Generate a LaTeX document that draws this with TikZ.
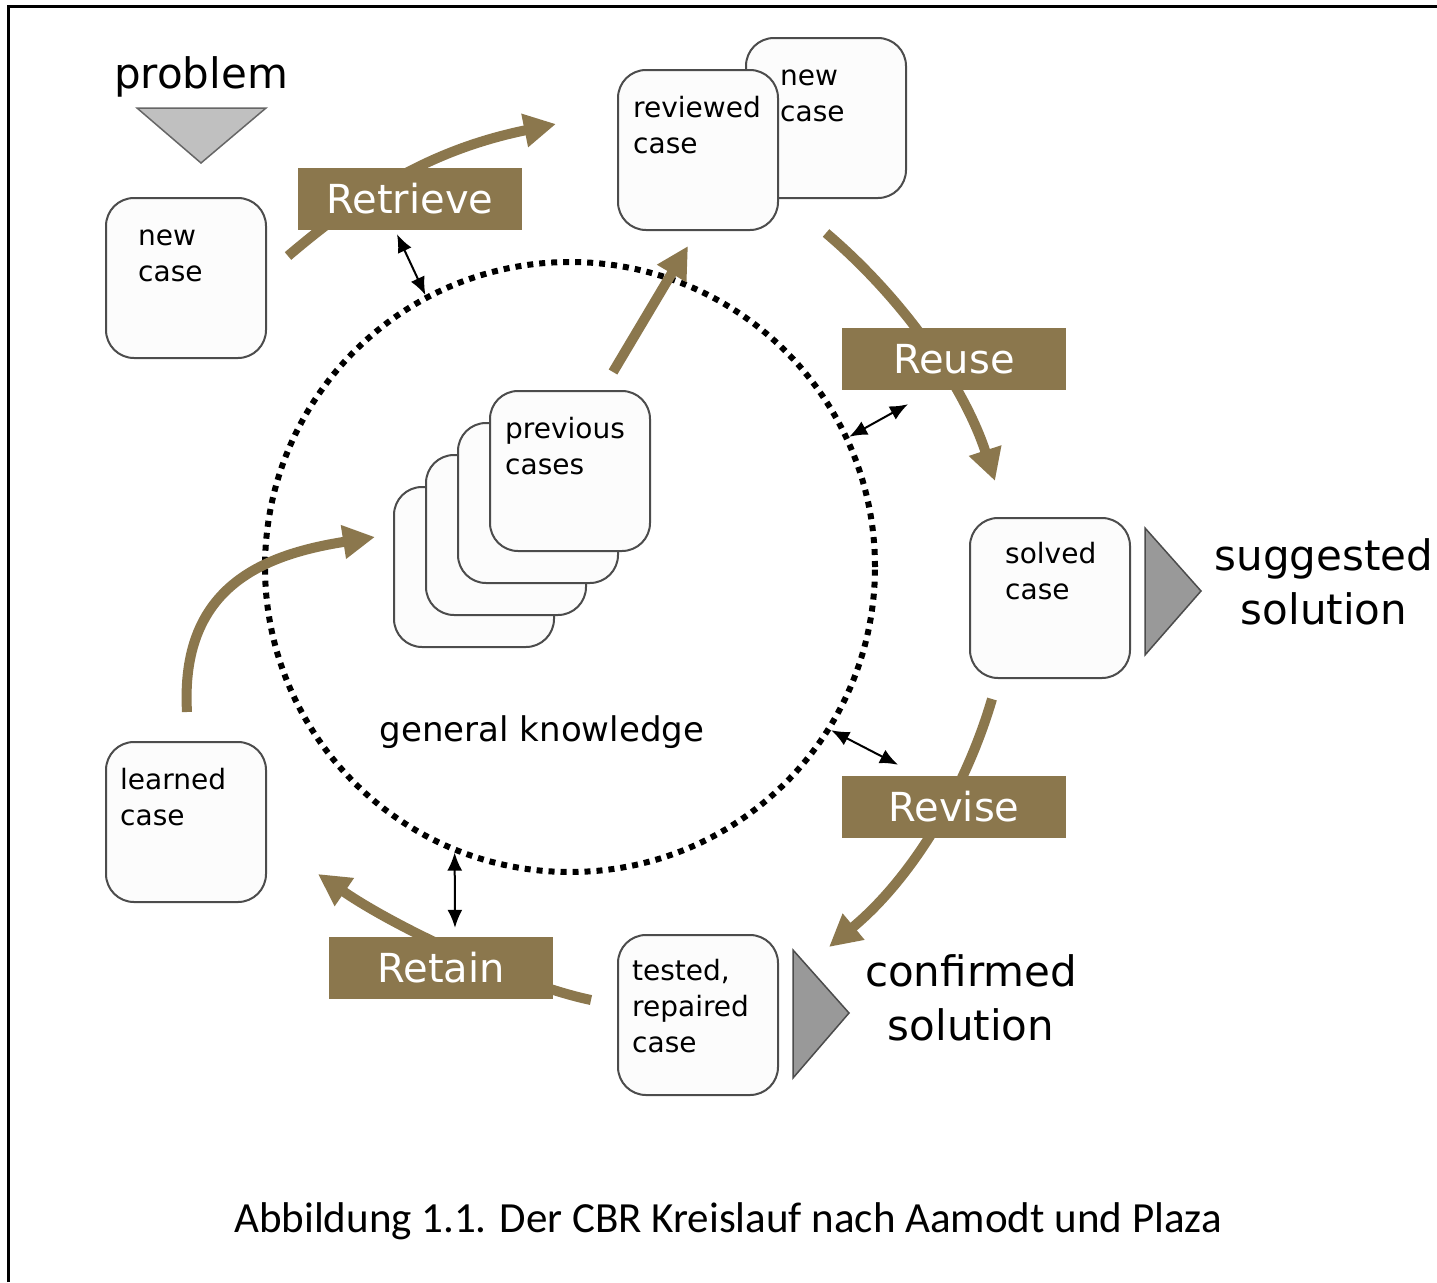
\documentclass[tikz,border=0pt]{standalone}
\usepackage{fontspec}
\setmainfont{DejaVu Sans}
\newfontfamily\capfont{Carlito}
\usetikzlibrary{arrows.meta}

\definecolor{cbrbrown}{RGB}{139,119,77}
\definecolor{tridark}{RGB}{153,153,153}
\definecolor{trilight}{RGB}{192,192,192}

\tikzset{
  casebox/.style={draw=black!70, line width=2pt, fill=white!99!black,
    rounded corners=28pt, minimum width=160pt, minimum height=160pt, inner sep=0pt},
  casetext/.style={anchor=north west, align=left, inner sep=0pt,
    font=\fontsize{28}{36}\selectfont},
  stepname/.style={fill=cbrbrown, text=white, minimum width=224pt,
    minimum height=62pt, inner sep=0pt, font=\fontsize{40}{48}\selectfont},
  flow/.style={draw=cbrbrown, line width=10pt, -{Triangle[length=32pt,width=32pt]}},
  link/.style={line width=2pt, {Latex[length=18pt,width=15pt]}-{Latex[length=18pt,width=15pt]}},
  bigtext/.style={align=center, inner sep=0pt, font=\fontsize{42}{54}\selectfont}
}

\begin{document}
\begin{tikzpicture}[x=1pt,y=-1pt]
\useasboundingbox (0,0) rectangle (1437,1282);
%frame
\draw[line width=3pt] (8,1282) -- (8,6) -- (1437,6);
%general knowledge
\node[draw, circle, line width=6pt, dash pattern=on 6pt off 6pt,
      minimum size=610pt, inner sep=0pt] (knowledge) at (570,567) {};
\node[font=\fontsize{34}{40}\selectfont, anchor=base] (gk) at (542,741) {general knowledge};
%problem
\node[bigtext, anchor=base] (problem) at (201,88) {problem};
\filldraw[fill=trilight, draw=black!60, line width=1.5pt] (137,108) -- (266,108) -- (201,163) -- cycle;
%cases
\node[casebox] (newcase) at (186,278) {};
\node[casetext] (newcase-t) at (138,220) {\strut new\\case};
\node[casebox] (newcase2) at (826,118) {};
\node[casetext] (newcase2-t) at (780,60) {\strut new\\case};
\node[casebox] (reviewed) at (698,150) {};
\node[casetext] (reviewed-t) at (633,92) {\strut reviewed\\case};
\foreach \i in {0,1,2,3}
{
  \node[casebox] (prev\i) at ({474+32*\i},{567-32*\i}) {};
}
\node[casetext] (prev-t) at (505,413) {\strut previous\\cases};
\node[casebox] (solved) at (1050,598) {};
\node[casetext] (solved-t) at (1005,538) {\strut solved\\case};
\node[casebox] (learned) at (186,822) {};
\node[casetext] (learned-t) at (120,764) {\strut learned\\case};
\node[casebox] (tested) at (698,1015) {};
\node[casetext] (tested-t) at (632,955) {\strut tested,\\repaired\\case};
%solutions
\filldraw[fill=tridark, draw=black!70, line width=1.5pt] (1145,528) -- (1145,655) -- (1201,591) -- cycle;
\node[bigtext] (suggested) at (1324,582) {suggested\\solution};
\filldraw[fill=tridark, draw=black!70, line width=1.5pt] (793,950) -- (793,1078) -- (849,1013) -- cycle;
\node[bigtext] (confirmed) at (971,998) {confirmed\\solution};
%cycle arrows
\draw[flow] ([xshift=21pt,yshift=22pt]newcase.east)
  .. controls +(72,-61) and +(-127,26) .. ([xshift=-61pt,yshift=26pt]reviewed.west);
\draw[flow] ([xshift=47pt,yshift=-2pt]reviewed.south east)
  .. controls +(80,68) and +(-30,-92) .. ([xshift=-55pt,yshift=36pt]solved.north);
\draw[flow] ([xshift=-58pt,yshift=-20pt]solved.south)
  .. controls +(-27,92) and +(82,-68) .. ([xshift=50pt,yshift=-13pt]tested.north east);
\draw[flow] ([xshift=-26pt,yshift=15pt]tested.west)
  .. controls +(-72,-15) and +(80,55) .. ([xshift=51pt,yshift=29pt]learned.south east);
\draw[flow] ([xshift=1pt,yshift=29pt]learned.north)
  .. controls +(-7,-123) and +(-115,18) .. ([xshift=-18pt,yshift=30pt]prev0.west);
\draw[flow] ([xshift=43pt,yshift=18pt]prev3.north) -- ([xshift=-10pt,yshift=-15pt]reviewed.south);
%steps
\node[stepname] (retrieve) at (410,199) {Retrieve};
\node[stepname] (reuse) at (954,359) {Reuse};
\node[stepname] (revise) at (954,807) {Revise};
\node[stepname] (retain) at (441,968) {Retain};
%links to general knowledge
\draw[link] ([xshift=-13pt,yshift=-4pt]retrieve.south) -- (knowledge.118);
\draw[link] (knowledge.25) -- ([xshift=-46pt,yshift=-14pt]reuse.south);
\draw[link] (knowledge.-32) -- ([xshift=-56pt,yshift=11pt]revise.north);
\draw[link] (knowledge.-112) -- ([xshift=14pt,yshift=9pt]retain.north);
%caption
\node[font=\capfont\fontsize{43}{50}\selectfont, anchor=base] (caption) at (728,1232)
  {Abbildung 1.1. Der CBR Kreislauf nach Aamodt und Plaza};
\end{tikzpicture}
\end{document}
